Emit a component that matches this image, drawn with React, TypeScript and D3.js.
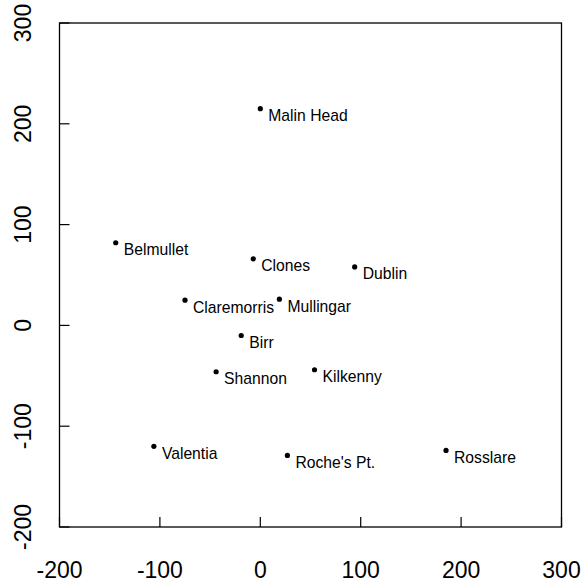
import React from "react";
import * as d3 from "d3";

const stations = ["Malin Head", "Belmullet", "Clones", "Dublin", "Claremorris", "Mullingar", "Birr", "Shannon", "Kilkenny", "Valentia", "Roche's Pt.", "Rosslare"];
const xValues = [0, -144, -7, 94, -75, 19, -19, -44, 54, -106, 27, 185];
const yValues = [215, 82, 66, 58, 25, 26, -10, -46, -44, -120, -129, -124];
const xTicks = [-200, -100, 0, 100, 200, 300];
const yTicks = [-200, -100, 0, 100, 200, 300];

const W = 582, H = 584;
const left = 59.5, right = 561.5, top = 23, bottom = 527;
const font = "'Liberation Sans', Arial, Helvetica, sans-serif";

export default function App() {
  const x = d3.scaleLinear().domain([-200, 300]).range([left, right]);
  const y = d3.scaleLinear().domain([-200, 300]).range([bottom, top]);
  return (
    <svg width={W} height={H} style={{ position: "absolute", left: 0, top: 0, background: "#fff" }}>
      <rect x={left} y={top} width={right - left} height={bottom - top} fill="none" stroke="#000" strokeWidth={1.3} />
      {xTicks.map((t) => (
        <g key={"x" + t}>
          <line x1={x(t)} x2={x(t)} y1={bottom} y2={bottom - 10} stroke="#000" strokeWidth={1.2} />
          <text x={x(t)} y={578} textAnchor="middle" fontFamily={font} fontSize={23} fill="#000">{t}</text>
        </g>
      ))}
      {yTicks.map((t) => (
        <g key={"y" + t}>
          <line x1={left} x2={left + 10} y1={y(t)} y2={y(t)} stroke="#000" strokeWidth={1.2} />
          <text transform={`translate(31,${y(t)}) rotate(-90)`} textAnchor="middle" fontFamily={font} fontSize={23} fill="#000">{t}</text>
        </g>
      ))}
      {stations.map((s, i) => (
        <g key={s}>
          <circle cx={x(xValues[i])} cy={y(yValues[i])} r={2.6} fill="#000" />
          <text x={x(xValues[i]) + 8} y={y(yValues[i]) + 12.5} fontFamily={font} fontSize={15.7} fill="#000">{s}</text>
        </g>
      ))}
    </svg>
  );
}
